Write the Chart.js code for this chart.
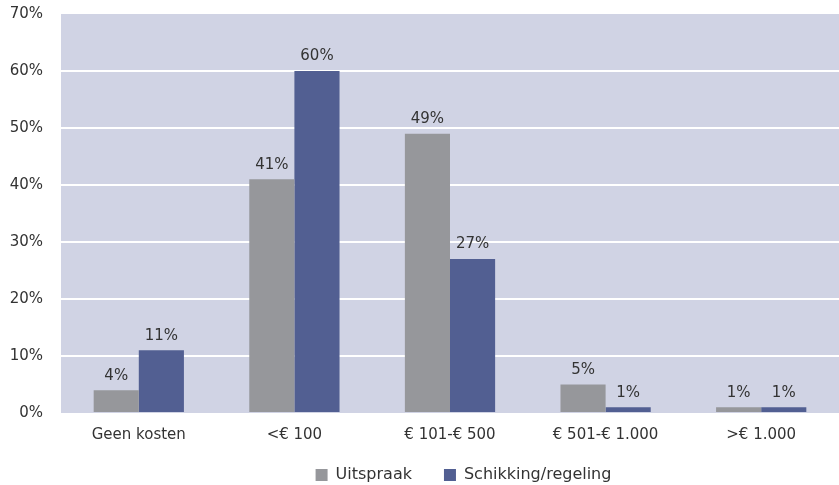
<!DOCTYPE html>
<html>
<head>
<meta charset="utf-8">
<script src="https://cdn.jsdelivr.net/npm/chart.js@4/dist/chart.umd.min.js"></script>
<style>
  html, body { margin: 0; padding: 0; background: #fff; }
  #wrap { width: 839px; height: 485px; }
</style>
</head>
<body>
<div id="wrap"><canvas id="chart"></canvas></div>
<script>
// categories + series
const categories = ["Geen kosten", "<€ 100", "€ 101-€ 500", "€ 501-€ 1.000", ">€ 1.000"];
const uitspraak = [4, 41, 49, 5, 1];
const schikking = [11, 60, 27, 1, 1];
const yTicks = [0, 10, 20, 30, 40, 50, 60, 70];

const FONT = "'DejaVu Sans', sans-serif";
const TEXT = "#333333";

// plot background
const plotBg = {
  id: "plotBg",
  beforeDraw(chart) {
    const { ctx, chartArea: a } = chart;
    ctx.save();
    ctx.fillStyle = "#d0d3e4";
    ctx.fillRect(a.left, a.top, a.right - a.left, a.bottom - a.top);
    ctx.restore();
  },
};

// value labels above bars
const barLabels = {
  id: "barLabels",
  afterDatasetsDraw(chart) {
    const { ctx } = chart;
    ctx.save();
    ctx.font = "15px " + FONT;
    ctx.fillStyle = TEXT;
    ctx.textAlign = "center";
    ctx.textBaseline = "bottom";
    chart.data.datasets.forEach((ds, i) => {
      chart.getDatasetMeta(i).data.forEach((bar, j) => {
        ctx.fillText(ds.data[j] + "%", bar.x, bar.y - 7);
      });
    });
    ctx.restore();
  },
};

// legend sits a bit right of centre; let x labels spill below the axis box
const nudge = {
  id: "nudge",
  afterLayout(chart) {
    chart.legend.left += 44;
    chart.legend.right += 44;
    chart.scales.x.bottom += 30;
  },
};

new Chart(document.getElementById("chart"), {
  type: "bar",
  data: {
    labels: categories,
    datasets: [
      { label: "Uitspraak", data: uitspraak, backgroundColor: "#96979b" },
      { label: "Schikking/regeling", data: schikking, backgroundColor: "#525f92" },
    ],
  },
  options: {
    responsive: true,
    maintainAspectRatio: false,
    animation: false,
    layout: { padding: { top: 14, right: 0, left: 0, bottom: -8 } },
    datasets: { bar: { categoryPercentage: 0.58, barPercentage: 1 } },
    plugins: {
      tooltip: { enabled: false },
      legend: {
        position: "bottom",
        labels: {
          boxWidth: 12,
          boxHeight: 12,
          padding: 32,
          color: TEXT,
          font: { size: 16, family: FONT },
        },
      },
    },
    scales: {
      x: {
        grid: { display: false, drawTicks: false },
        border: { display: false },
        ticks: { color: TEXT, font: { size: 15, family: FONT }, padding: 13, maxRotation: 0 },
        afterFit(scale) { scale.height = 22; },
      },
      y: {
        min: 0,
        max: 70,
        afterBuildTicks(scale) { scale.ticks = yTicks.map(v => ({ value: v })); },
        grid: {
          color: (c) => (c.tick && (c.tick.value === 0 || c.tick.value === 70) ? "rgba(0,0,0,0)" : "#ffffff"),
          lineWidth: 2,
          drawTicks: false,
        },
        border: { display: false },
        ticks: {
          color: TEXT,
          font: { size: 15, family: FONT },
          padding: 18,
          callback: (v) => v + "%",
        },
        afterFit(scale) { scale.width = 61; scale.paddingTop = 0; },
      },
    },
  },
  plugins: [plotBg, barLabels, nudge],
});
</script>
</body>
</html>
